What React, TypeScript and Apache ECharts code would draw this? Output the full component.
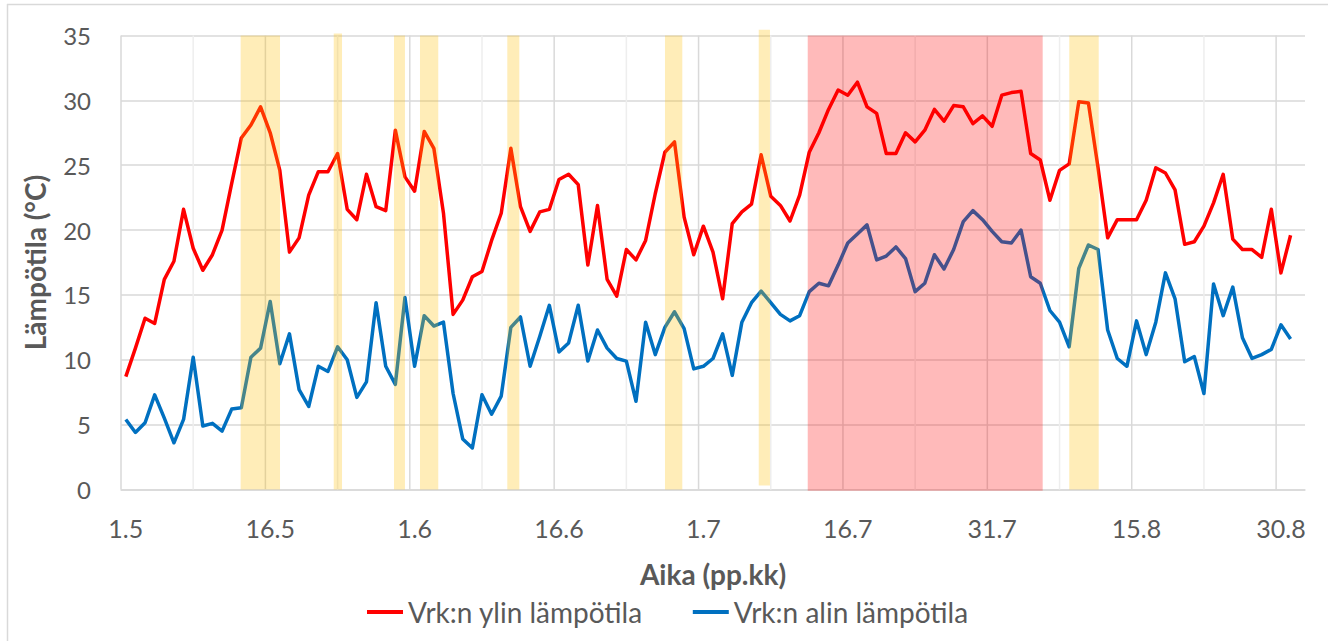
import React, { useEffect, useRef } from "react";
import * as echarts from "echarts";

// Category labels (pp.kk). One May day is missing in the source data, plus one padding slot at the end.
const mayDays = Array.from({ length: 30 }, (_, i) => `${i + 1}.5`);
const juneDays = Array.from({ length: 30 }, (_, i) => `${i + 1}.6`);
const julyDays = Array.from({ length: 31 }, (_, i) => `${i + 1}.7`);
const augDays = Array.from({ length: 31 }, (_, i) => `${i + 1}.8`);
const categories = [...mayDays, ...juneDays, ...julyDays, ...augDays, "1.9"];

const seriesNames = ["Vrk:n ylin lämpötila", "Vrk:n alin lämpötila"];

// Daily maximum temperature (°C)
const maxTemp = [
  8.7, 10.9, 13.2, 12.8, 16.2, 17.6, 21.6, 18.6, 16.9, 18.1,
  20.0, 23.6, 27.1, 28.1, 29.5, 27.5, 24.6, 18.3, 19.4, 22.7,
  24.5, 24.5, 25.9, 21.6, 20.8, 24.3, 21.8, 21.5, 27.7, 24.1,
  23.0, 27.6, 26.3, 21.3, 13.5, 14.6, 16.4, 16.8, 19.2, 21.3,
  26.3, 21.8, 19.9, 21.4, 21.6, 23.9, 24.3, 23.5, 17.3, 21.9,
  16.2, 14.9, 18.5, 17.7, 19.2, 22.8, 26.0, 26.8, 21.0, 18.1,
  20.3, 18.3, 14.7, 20.5, 21.4, 22.0, 25.8, 22.6, 21.9, 20.7,
  22.7, 26.0, 27.5, 29.3, 30.8, 30.4, 31.4, 29.5, 29.0, 25.9,
  25.9, 27.5, 26.8, 27.7, 29.3, 28.4, 29.6, 29.5, 28.2, 28.8,
  28.0, 30.4, 30.6, 30.7, 25.9, 25.4, 22.3, 24.6, 25.1, 29.9,
  29.8, 24.8, 19.4, 20.8, 20.8, 20.8, 22.3, 24.8, 24.4, 23.1,
  18.9, 19.1, 20.3, 22.1, 24.3, 19.3, 18.5, 18.5, 17.9, 21.6,
  16.7, 19.6,
];

// Daily minimum temperature (°C)
const minTemp = [
  5.4, 4.4, 5.15, 7.3, 5.5, 3.6, 5.4, 10.2, 4.9, 5.1,
  4.5, 6.2, 6.3, 10.2, 10.9, 14.5, 9.7, 12.0, 7.7, 6.4,
  9.5, 9.1, 11.0, 10.0, 7.1, 8.3, 14.4, 9.5, 8.1, 14.8,
  9.5, 13.4, 12.6, 12.9, 7.4, 3.9, 3.2, 7.3, 5.8, 7.2,
  12.5, 13.3, 9.5, 11.8, 14.2, 10.6, 11.3, 14.2, 9.9, 12.3,
  10.9, 10.1, 9.9, 6.8, 12.9, 10.4, 12.5, 13.7, 12.4, 9.3,
  9.5, 10.1, 12.0, 8.8, 12.9, 14.4, 15.3, 14.4, 13.5, 13.0,
  13.4, 15.25, 15.9, 15.7, 17.3, 19.0, 19.7, 20.4, 17.7, 18.0,
  18.7, 17.8, 15.25, 15.9, 18.1, 17.0, 18.5, 20.65, 21.5, 20.8,
  19.9, 19.1, 19.0, 20.0, 16.4, 15.9, 13.8, 12.9, 11.0, 17.05,
  18.85, 18.5, 12.3, 10.1, 9.5, 13.0, 10.4, 12.9, 16.7, 14.7,
  9.85, 10.25, 7.4, 15.85, 13.4, 15.6, 11.7, 10.1, 10.4, 10.8,
  12.7, 11.6,
];

// Highlighted periods, in day-slot units along the axis (0 = left edge of 1.5)
const bandStart = [12.43, 22.1, 28.36, 31.06, 40.13, 56.51, 66.25, 71.34, 98.51];
const bandEnd = [16.52, 22.96, 29.5, 32.96, 41.38, 58.31, 67.42, 95.75, 101.57];
const bandLow = [0, 0, 0, 0, 0, 0, 0.3, -0.1, 0];
const bandHigh = [35, 35.15, 35, 35, 35, 35, 35.45, 35, 35];
const bandKind = [0, 0, 0, 0, 0, 0, 0, 1, 0]; // 0 = yellow, 1 = red

const yTicks = { min: 0, max: 35, interval: 5 };
const slotCount = categories.length;
const labelEvery = 15;

const FONT = "Lato, 'Open Sans', sans-serif";
const TEXT = "#595959";

export default function App() {
  const ref = useRef<HTMLDivElement>(null);

  useEffect(() => {
    if (!ref.current) return;
    const chart = echarts.init(ref.current, null, { renderer: "svg" });

    const gridData: number[][] = [];
    for (let k = 0; k * (labelEvery / 2) <= 120; k++) {
      gridData.push([k * (labelEvery / 2), k % 2 === 0 ? 1 : 0]);
    }
    const bandData = bandStart.map((s, i) => [s, bandEnd[i], bandLow[i], bandHigh[i], bandKind[i]]);

    chart.setOption({
      animation: false,
      textStyle: { fontFamily: FONT },
      grid: { left: 121, top: 35.5, width: 1184, height: 454 },
      legend: {
        data: seriesNames,
        left: 362,
        top: 593,
        icon: "rect",
        itemWidth: 36,
        itemHeight: 4,
        itemGap: 50,
        textStyle: { fontSize: 28, color: TEXT, fontFamily: FONT },
      },
      xAxis: [
        {
          type: "category",
          data: categories,
          boundaryGap: true,
          name: "Aika (pp.kk)",
          nameLocation: "middle",
          nameGap: 70,
          nameTextStyle: { fontSize: 28, fontWeight: "bold", color: TEXT, fontFamily: FONT },
          axisLine: { lineStyle: { color: "#d9d9d9", width: 1.5 } },
          axisTick: { show: false },
          splitLine: { show: false },
          axisLabel: { interval: labelEvery - 1, fontSize: 25, color: TEXT, margin: 26, fontFamily: FONT },
        },
        {
          type: "value",
          min: 0,
          max: slotCount,
          show: false,
          splitLine: { show: false },
        },
      ],
      yAxis: {
        type: "value",
        min: yTicks.min,
        max: yTicks.max,
        interval: yTicks.interval,
        name: "Lämpötila (°C)",
        nameLocation: "middle",
        nameGap: 72,
        nameTextStyle: { fontSize: 28, fontWeight: "bold", color: TEXT, fontFamily: FONT },
        axisLine: { show: false },
        axisTick: { show: false },
        axisLabel: { fontSize: 24, color: TEXT, margin: 30, fontFamily: FONT },
        splitLine: { lineStyle: { color: "#d9d9d9", width: 1.5 } },
      },
      series: [
        {
          name: "vgrid",
          type: "custom",
          xAxisIndex: 1,
          yAxisIndex: 0,
          z: 1,
          silent: true,
          data: gridData,
          renderItem: (params: any, api: any) => {
            const x = api.value(0);
            const major = api.value(1) === 1;
            const p1 = api.coord([x, yTicks.max]);
            const p2 = api.coord([x, yTicks.min]);
            return {
              type: "line",
              shape: { x1: p1[0], y1: p1[1], x2: p2[0], y2: p2[1] },
              style: { stroke: major ? "#d9d9d9" : "#eeeeee", lineWidth: 1.5 },
            };
          },
        },
        {
          name: seriesNames[0],
          type: "line",
          data: maxTemp,
          z: 2,
          showSymbol: false,
          symbol: "none",
          lineStyle: { color: "#ff0000", width: 3.5, join: "round" },
          itemStyle: { color: "#ff0000" },
        },
        {
          name: seriesNames[1],
          type: "line",
          data: minTemp,
          z: 2,
          showSymbol: false,
          symbol: "none",
          lineStyle: { color: "#0070c0", width: 3.5, join: "round" },
          itemStyle: { color: "#0070c0" },
        },
        {
          name: "bands",
          type: "custom",
          xAxisIndex: 1,
          yAxisIndex: 0,
          z: 3,
          silent: true,
          data: bandData,
          renderItem: (params: any, api: any) => {
            const s = api.value(0);
            const e = api.value(1);
            const lo = api.value(2);
            const hi = api.value(3);
            const kind = api.value(4);
            const p1 = api.coord([s, hi]);
            const p2 = api.coord([e, lo]);
            return {
              type: "rect",
              shape: { x: p1[0], y: p1[1], width: p2[0] - p1[0], height: p2[1] - p1[1] },
              style: { fill: kind === 1 ? "rgba(255,0,0,0.27)" : "rgba(255,192,0,0.28)" },
            };
          },
        },
      ],
      graphic: [
        { type: "line", shape: { x1: 7.5, y1: 4, x2: 7.5, y2: 641 }, style: { stroke: "#d9d9d9", lineWidth: 1.5 } },
        { type: "line", shape: { x1: 7, y1: 4.5, x2: 1328, y2: 4.5 }, style: { stroke: "#d9d9d9", lineWidth: 1.5 } },
      ],
    });

    return () => chart.dispose();
  }, []);

  return (
    <div
      ref={ref}
      style={{ position: "fixed", left: 0, top: 0, width: 1328, height: 641, background: "#ffffff" }}
    />
  );
}
